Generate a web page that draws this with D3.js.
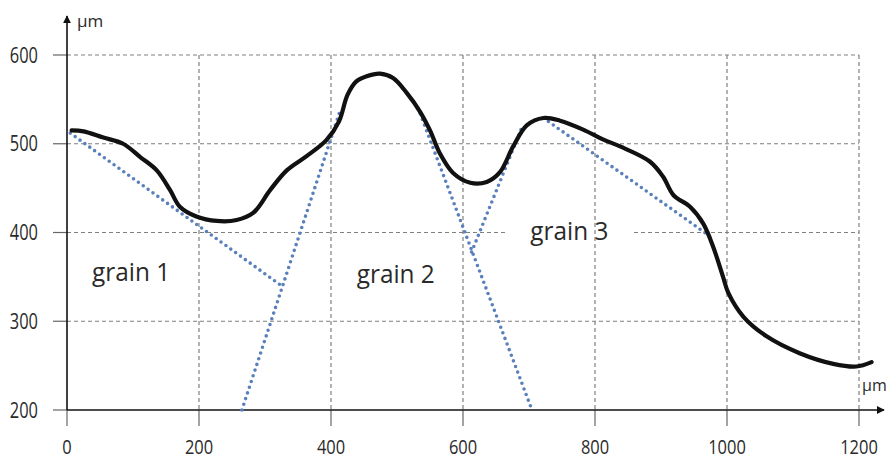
<!DOCTYPE html>
<html>
<head>
<meta charset="utf-8">
<script src="https://cdn.jsdelivr.net/npm/d3@7"></script>
<style>
  body { margin: 0; background: #fff; }
  text { font-family: "Open Sans", sans-serif; fill: #2a2a2a; }
</style>
</head>
<body>
<div id="chart"></div>
<script>
// surface profile (µm)
const profileX = [7, 25, 55, 85, 111, 136, 156, 171, 196, 227, 257, 282, 308, 333, 363, 393, 412, 425, 438, 454, 474, 494, 515, 535, 550, 565, 585, 611, 636, 656, 676, 697, 722, 747, 782, 812, 838, 883, 903, 919, 944, 964, 979, 994, 1002, 1025, 1060, 1110, 1161, 1196, 1219];
const profileY = [515, 514, 507, 500, 485, 470, 448, 429, 418, 413, 414, 422, 448, 470, 486, 504, 525, 555, 570, 576, 579, 574, 557, 536, 515, 489, 467, 456, 457, 468, 497, 521, 529, 526, 516, 505, 497, 480, 463, 442, 429, 410, 384, 350, 332, 305, 283, 264, 252, 249, 254];

// dotted grain boundary guides [x1, y1, x2, y2]
const guideLines = [
  [5, 512, 325, 340],
  [265, 200, 415, 540],
  [532, 540, 703, 203],
  [613, 378, 690, 520],
  [722, 529, 970, 398]
];

const xTicks = [0, 200, 400, 600, 800, 1000, 1200];
const yTicks = [200, 300, 400, 500, 600];
const grainNames = ["grain 1", "grain 2", "grain 3"];
const grainAt = [[38, 345], [439, 343], [702, 391]];

const width = 889, height = 460;
const svg = d3.select("#chart").append("svg")
  .attr("width", width).attr("height", height);

const x = d3.scaleLinear().domain([0, 1200]).range([67, 859]);
const y = d3.scaleLinear().domain([200, 600]).range([410, 55]);

const gridColor = "#808080";

// horizontal grid
svg.append("g").selectAll("line")
  .data(yTicks.filter(d => d > 200))
  .enter().append("line")
  .attr("x1", x(0)).attr("x2", x(1200))
  .attr("y1", d => y(d)).attr("y2", d => y(d))
  .attr("stroke", gridColor).attr("stroke-width", 1.2)
  .attr("stroke-dasharray", "4,3");

// white box behind grain 3 breaks the 400 gridline
svg.append("rect")
  .attr("x", 507).attr("y", y(400) - 5)
  .attr("width", 125).attr("height", 10)
  .attr("fill", "#fff");

// vertical grid
svg.append("g").selectAll("line")
  .data(xTicks.filter(d => d > 0))
  .enter().append("line")
  .attr("x1", d => x(d)).attr("x2", d => x(d))
  .attr("y1", y(600)).attr("y2", y(200))
  .attr("stroke", gridColor).attr("stroke-width", 1.2)
  .attr("stroke-dasharray", "4,3");

// ticks
svg.append("g").selectAll("line")
  .data(xTicks)
  .enter().append("line")
  .attr("x1", d => x(d)).attr("x2", d => x(d))
  .attr("y1", y(200)).attr("y2", y(200) + 16)
  .attr("stroke", "#666").attr("stroke-width", 1.2);

svg.append("g").selectAll("line")
  .data(yTicks)
  .enter().append("line")
  .attr("x1", x(0) - 14).attr("x2", x(0))
  .attr("y1", d => y(d)).attr("y2", d => y(d))
  .attr("stroke", "#666").attr("stroke-width", 1.2);

// axes with arrows
svg.append("defs").append("marker")
  .attr("id", "arrow")
  .attr("viewBox", "0 0 10 10")
  .attr("refX", 9).attr("refY", 5)
  .attr("markerWidth", 8).attr("markerHeight", 8)
  .attr("markerUnits", "userSpaceOnUse")
  .attr("orient", "auto")
  .append("path").attr("d", "M0,0L10,5L0,10Z").attr("fill", "#111");

svg.append("line")
  .attr("x1", x(0)).attr("x2", x(0))
  .attr("y1", y(200)).attr("y2", 16)
  .attr("stroke", "#111").attr("stroke-width", 1.6)
  .attr("marker-end", "url(#arrow)");

svg.append("line")
  .attr("x1", x(0)).attr("x2", 884)
  .attr("y1", y(200)).attr("y2", y(200))
  .attr("stroke", "#111").attr("stroke-width", 1.6)
  .attr("marker-end", "url(#arrow)");

// tick labels
svg.append("g").selectAll("text")
  .data(yTicks)
  .enter().append("text")
  .attr("x", 38).attr("y", d => y(d) + 7.5)
  .attr("text-anchor", "end")
  .attr("font-size", 21)
  .attr("textLength", d => String(d).length * 9.4)
  .attr("lengthAdjust", "spacingAndGlyphs")
  .text(d => d);

svg.append("g").selectAll("text")
  .data(xTicks)
  .enter().append("text")
  .attr("x", d => x(d)).attr("y", 454)
  .attr("text-anchor", "middle")
  .attr("font-size", 20)
  .attr("textLength", d => String(d).length * 9.4)
  .attr("lengthAdjust", "spacingAndGlyphs")
  .text(d => d);

// unit labels
svg.append("text")
  .attr("x", 77).attr("y", 27)
  .attr("font-size", 17)
  .text("µm");
svg.append("text")
  .attr("x", 862).attr("y", 391)
  .attr("font-size", 16)
  .text("µm");

// dotted guides
svg.append("g").selectAll("line")
  .data(guideLines)
  .enter().append("line")
  .attr("x1", d => x(d[0])).attr("y1", d => y(d[1]))
  .attr("x2", d => x(d[2])).attr("y2", d => y(d[3]))
  .attr("stroke", "#5a80bb").attr("stroke-width", 3.6)
  .attr("stroke-linecap", "round")
  .attr("stroke-dasharray", "0,6");

// profile curve
const profile = profileX.map((d, i) => [d, profileY[i]]);
svg.append("path")
  .datum(profile)
  .attr("d", d3.line().x(d => x(d[0])).y(d => y(d[1])).curve(d3.curveCatmullRom.alpha(0.5)))
  .attr("fill", "none")
  .attr("stroke", "#111").attr("stroke-width", 4.2)
  .attr("stroke-linecap", "round").attr("stroke-linejoin", "round");

// grain labels
svg.append("g").selectAll("text")
  .data(grainNames)
  .enter().append("text")
  .attr("x", (d, i) => x(grainAt[i][0]))
  .attr("y", (d, i) => y(grainAt[i][1]))
  .attr("font-size", 26)
  .attr("textLength", 78).attr("lengthAdjust", "spacingAndGlyphs")
  .text(d => d);
</script>
</body>
</html>
